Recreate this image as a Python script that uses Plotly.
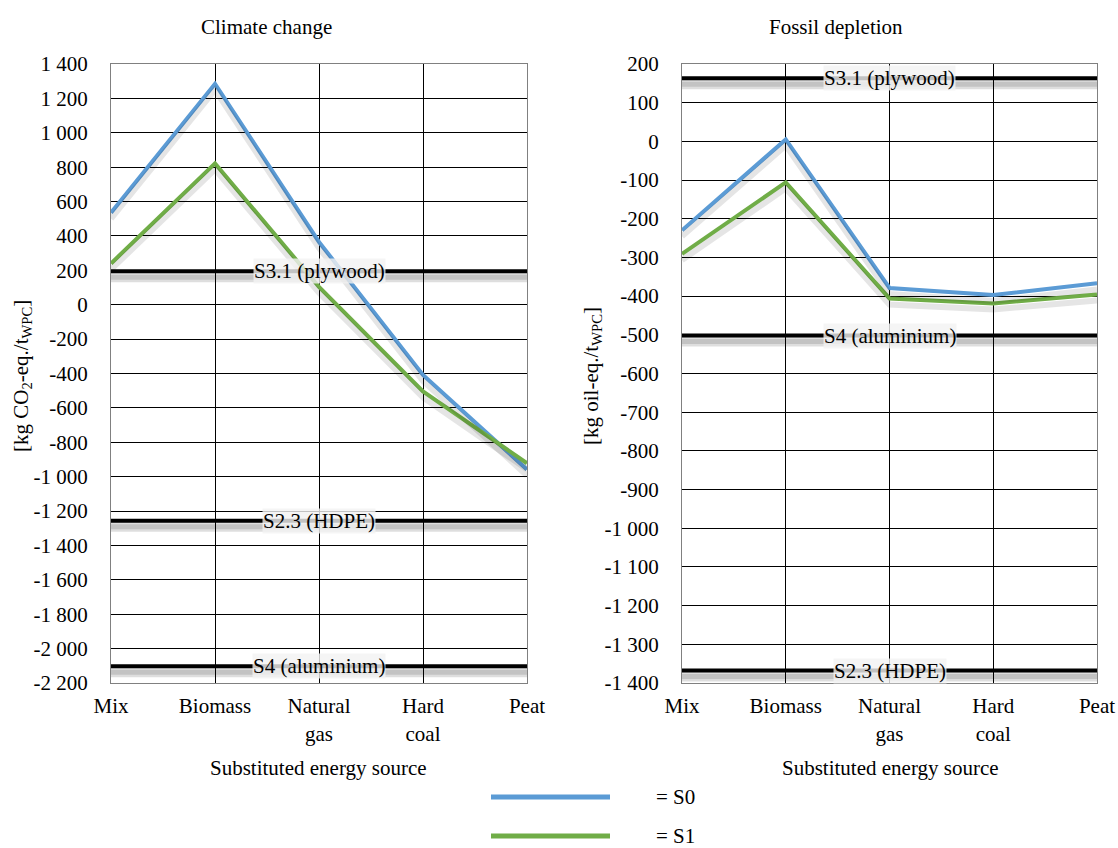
import plotly.graph_objects as go

# ---------------- data ----------------
categories = ["Mix", "Biomass", "Natural<br>gas", "Hard<br>coal", "Peat"]

cc_s0 = [535, 1285, 365, -408, -958]
cc_s1 = [240, 822, 104, -504, -922]
cc_ref_names = ["S3.1 (plywood)", "S2.3 (HDPE)", "S4 (aluminium)"]
cc_ref_values = [195, -1256, -2102]
cc_ticks = [1400, 1200, 1000, 800, 600, 400, 200, 0, -200, -400, -600, -800,
            -1000, -1200, -1400, -1600, -1800, -2000, -2200]

fd_s0 = [-230, 5, -379, -397, -367]
fd_s1 = [-291, -106, -406, -419, -396]
fd_ref_names = ["S3.1 (plywood)", "S4 (aluminium)", "S2.3 (HDPE)"]
fd_ref_values = [163, -502, -1368]
fd_ticks = [200, 100, 0, -100, -200, -300, -400, -500, -600, -700, -800, -900,
            -1000, -1100, -1200, -1300, -1400]

series_names = ["S0", "S1"]

# ---------------- style ----------------
W, H = 1118, 848
FONT = "Liberation Serif, Times New Roman, DejaVu Serif, serif"
FS = 21
BLUE = "#5B9BD5"
GREEN = "#70AD47"
SHADOW_PX = 6


def fmt(v):
    return f"{v:,}".replace(",", " ")


def px_x(p):
    return p / W


def px_y(p):
    return 1 - p / H


left_dom = [px_x(111), px_x(527)]
right_dom = [px_x(682), px_x(1097)]
y_dom = [px_y(683), px_y(64)]
plot_h = (y_dom[1] - y_dom[0]) * H

cc_range = [min(cc_ticks), max(cc_ticks)]
fd_range = [min(fd_ticks), max(fd_ticks)]
cc_shift = SHADOW_PX * (cc_range[1] - cc_range[0]) / plot_h
fd_shift = SHADOW_PX * (fd_range[1] - fd_range[0]) / plot_h

fig = go.Figure()


def add_panel(xa, ya, ysh, s0, s1, ref_vals):
    n = len(categories)
    # shadows
    for v in ref_vals:
        fig.add_trace(go.Scatter(x=categories, y=[v] * n, xaxis=xa, yaxis=ysh, mode="lines",
                                 line=dict(color="rgba(0,0,0,0.13)", width=10),
                                 hoverinfo="skip", showlegend=False))
        fig.add_trace(go.Scatter(x=categories, y=[v] * n, xaxis=xa, yaxis=ysh, mode="lines",
                                 line=dict(color="rgba(0,0,0,0.12)", width=5),
                                 hoverinfo="skip", showlegend=False))
    for s in (s0, s1):
        fig.add_trace(go.Scatter(x=categories, y=s, xaxis=xa, yaxis=ysh, mode="lines",
                                 line=dict(color="rgba(0,0,0,0.10)", width=6),
                                 hoverinfo="skip", showlegend=False))
    # reference lines
    for v in ref_vals:
        fig.add_trace(go.Scatter(x=categories, y=[v] * n, xaxis=xa, yaxis=ya, mode="lines",
                                 line=dict(color="black", width=4),
                                 hoverinfo="skip", showlegend=False))
    # series
    for s, c, nm in ((s0, BLUE, series_names[0]), (s1, GREEN, series_names[1])):
        fig.add_trace(go.Scatter(x=categories, y=s, xaxis=xa, yaxis=ya, mode="lines", name=nm,
                                 line=dict(color=c, width=4), showlegend=False))


add_panel("x", "y", "y3", cc_s0, cc_s1, cc_ref_values)
add_panel("x2", "y2", "y4", fd_s0, fd_s1, fd_ref_values)

xcommon = dict(type="category", range=[0, len(categories) - 1], showgrid=True,
               gridcolor="black", gridwidth=1, showline=True, linecolor="#808080",
               linewidth=1, mirror=True, ticks="", ticklabelstandoff=4, automargin=False,
               tickfont=dict(family=FONT, size=FS, color="black"), zeroline=False,
               fixedrange=True)
ycommon = dict(showgrid=True, gridcolor="black", gridwidth=1, showline=True,
               linecolor="#808080", linewidth=1, mirror=True, ticks="", automargin=False,
               ticklabelstandoff=18, zeroline=False,
               tickfont=dict(family=FONT, size=FS, color="black"), fixedrange=True)

fig.update_layout(
    width=W, height=H,
    margin=dict(l=0, r=0, t=0, b=0, autoexpand=False),
    paper_bgcolor="white", plot_bgcolor="white",
    font=dict(family=FONT, size=FS, color="black"),
    showlegend=False,
    xaxis=dict(domain=left_dom, anchor="y", **xcommon),
    xaxis2=dict(domain=right_dom, anchor="y2", **xcommon),
    yaxis=dict(domain=y_dom, anchor="x", range=cc_range, tickmode="array",
               tickvals=cc_ticks, ticktext=[fmt(v) for v in cc_ticks], **ycommon),
    yaxis2=dict(domain=y_dom, anchor="x2", range=fd_range, tickmode="array",
                tickvals=fd_ticks, ticktext=[fmt(v) for v in fd_ticks], **ycommon),
    yaxis3=dict(overlaying="y", anchor="x", range=[cc_range[0] + cc_shift, cc_range[1] + cc_shift],
                visible=False, fixedrange=True, automargin=False),
    yaxis4=dict(overlaying="y2", anchor="x2", range=[fd_range[0] + fd_shift, fd_range[1] + fd_shift],
                visible=False, fixedrange=True, automargin=False),
)

ann = []
label_bg = "rgba(242,242,242,0.8)"
for names, vals, xr, yr in ((cc_ref_names, cc_ref_values, "x", "y"),
                            (fd_ref_names, fd_ref_values, "x2", "y2")):
    for nm, v in zip(names, vals):
        ann.append(dict(x=categories[2], y=v, xref=xr, yref=yr, text=nm, showarrow=False,
                        bgcolor=label_bg, borderpad=0,
                        font=dict(family=FONT, size=FS, color="black")))

# titles
ann.append(dict(x=px_x(266), y=px_y(27), xref="paper", yref="paper", text="Climate change",
                showarrow=False, xanchor="center", yanchor="middle"))
ann.append(dict(x=px_x(836), y=px_y(27), xref="paper", yref="paper", text="Fossil depletion",
                showarrow=False, xanchor="center", yanchor="middle"))
ann.append(dict(x=px_x(318), y=px_y(768), xref="paper", yref="paper",
                text="Substituted energy source", showarrow=False, xanchor="center", yanchor="middle"))
ann.append(dict(x=px_x(891), y=px_y(768), xref="paper", yref="paper",
                text="Substituted energy source", showarrow=False, xanchor="center", yanchor="middle"))
ann.append(dict(x=px_x(22), y=px_y(376), xref="paper", yref="paper",
                text="[kg CO<sub>2</sub>-eq./t<sub>WPC</sub>]", textangle=-90,
                showarrow=False, xanchor="center", yanchor="middle"))
ann.append(dict(x=px_x(592), y=px_y(376), xref="paper", yref="paper",
                text="[kg oil-eq./t<sub>WPC</sub>]", textangle=-90,
                showarrow=False, xanchor="center", yanchor="middle"))

# legend (custom)
shapes = []
for ypos, col, nm in ((797, BLUE, series_names[0]), (836, GREEN, series_names[1])):
    shapes.append(dict(type="line", xref="paper", yref="paper", x0=px_x(491), x1=px_x(610),
                       y0=px_y(ypos), y1=px_y(ypos), line=dict(color=col, width=5)))
    ann.append(dict(x=px_x(654), y=px_y(ypos), xref="paper", yref="paper", text="= " + nm,
                    showarrow=False, xanchor="left", yanchor="middle"))

fig.update_layout(annotations=ann, shapes=shapes)
fig.write_html("out.html", config={"displayModeBar": False},
               post_script="document.body.style.margin='0';")
